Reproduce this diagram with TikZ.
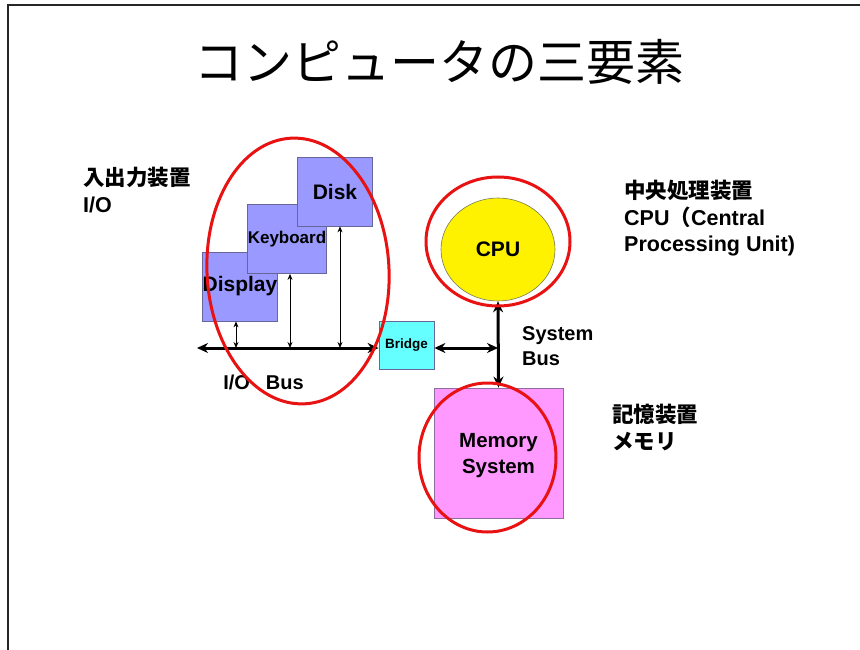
\documentclass[tikz,border=0pt]{standalone}
\usepackage{fontspec}
\setmainfont{Liberation Sans}
\newfontfamily\cjk{Noto Sans CJK JP}
\usetikzlibrary{shapes.geometric,arrows.meta}

\definecolor{devfill}{RGB}{153,153,255}
\definecolor{devline}{RGB}{102,102,153}
\definecolor{bridgefill}{RGB}{102,255,255}
\definecolor{memfill}{RGB}{255,153,255}
\definecolor{memline}{RGB}{140,110,160}
\definecolor{ringred}{RGB}{232,18,18}
\definecolor{cpuline}{RGB}{120,120,90}

\tikzset{
  device/.style={draw=devline, fill=devfill, line width=0.8pt, inner sep=0pt,
                 minimum width=75pt, minimum height=69pt, font=\bfseries\fontsize{21}{24}\selectfont},
  ring/.style={draw=ringred, line width=3pt, ellipse, inner sep=0pt},
  bus/.style={line width=3pt, {Stealth[length=11pt,width=10pt]}-{Stealth[length=11pt,width=10pt]}},
  link/.style={line width=0.8pt, {Stealth[length=6pt,width=5pt]}-{Stealth[length=6pt,width=5pt]}},
  sidelabel/.style={anchor=north west, align=left, inner sep=0pt,
                    font=\bfseries\fontsize{21.5}{26.5}\selectfont},
  buslabel/.style={inner sep=0pt, align=left, font=\bfseries\fontsize{20}{25}\selectfont},
}

\begin{document}
\begin{tikzpicture}[x=1pt,y=-1pt]
\useasboundingbox (0,0) rectangle (860,650);
\fill[white] (0,0) rectangle (860,650);

% slide frame (left and top edges)
\draw[line width=2.5pt, black!85] (8,650) -- (8,5) -- (860,5);

% title
\node (title) at (439,62) {\cjk\fontsize{49}{53}\selectfont コンピュータの三要素};

% I/O devices
\node[device] (display) at (240,286.5) {Display};
\node[device, font=\bfseries\fontsize{17}{20}\selectfont] (keyboard) at (287,239) {Keyboard};
\node[device] (disk) at (335,191.5) {Disk};

% bridge, CPU and memory
\node[draw=devline, fill=bridgefill, line width=0.8pt, inner sep=0pt,
      minimum width=55pt, minimum height=48pt,
      font=\bfseries\fontsize{13.5}{16}\selectfont] (bridge) at (406.5,345) {Bridge};
\node[ellipse, draw=cpuline, fill=yellow, line width=0.6pt, inner sep=0pt,
      minimum width=114pt, minimum height=103pt,
      font=\bfseries\fontsize{21}{24}\selectfont] (cpu) at (498,249.5) {CPU};
\node[draw=memline, fill=memfill, line width=0.8pt, inner sep=0pt,
      minimum width=129pt, minimum height=130pt,
      label={[inner sep=0pt, align=center, yshift=-3pt,
              font=\bfseries\fontsize{20.5}{26}\selectfont]center:Memory\\System}]
      (mem) at (498.5,453) {};

% bus junction points
\coordinate (busL) at (197,348);
\coordinate (jDisplay) at (236,348);
\coordinate (jKeyboard) at (290,348);
\coordinate (jDisk) at (340,348);
\coordinate (sysJ) at (498,348);

% I/O bus and device links
\draw[bus] (busL) -- (busL -| bridge.west);
\draw[link] (jDisplay |- display.south) -- (jDisplay);
\draw[link] (jKeyboard |- keyboard.south) -- (jKeyboard);
\draw[link] (jDisk |- disk.south) -- (jDisk);

% system bus
\draw[bus] (cpu.south) -- (mem.north);
\draw[bus] (bridge.east |- sysJ) -- (sysJ);

% bus labels
\node[buslabel] (iobus) at (263.5,382) {I/O\hspace{0.8em}Bus};
\node[buslabel, anchor=west] (sysbus) at (522,346.5) {System\\Bus};

% red highlight rings
\node[ring, minimum width=182pt, minimum height=266pt, rotate=3] (ioring) at (298,271) {};
\node[ring, minimum width=144pt, minimum height=129pt] (cpuring) at (498,241.5) {};
\node[ring, minimum width=137pt, minimum height=149pt] (memring) at (487.5,457.5) {};

% side labels
\node[sidelabel] (iolabel) at (83,167) {{\cjk 入出力装置}\\I/O};
\node[sidelabel] (cpulabel) at (624,180) {{\cjk 中央処理装置}\\CPU{\cjk （}Central\\Processing Unit)};
\node[sidelabel] (memlabel) at (612,404) {{\cjk 記憶装置}\\{\cjk メモリ}};
\end{tikzpicture}
\end{document}
